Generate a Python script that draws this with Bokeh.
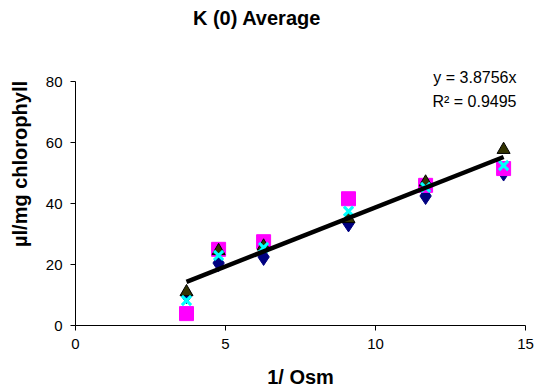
from bokeh.plotting import figure
from bokeh.models import Range1d, FixedTicker, Label
from bokeh.embed import file_html
from bokeh.resources import INLINE

# Data
x_vals = [3.7, 4.77, 6.27, 9.1, 11.67, 14.27]
s_diamond = [10.0, 20.5, 22.5, 33.5, 42.5, 50.2]
s_square = [3.9, 25.0, 27.5, 41.6, 46.0, 51.5]
s_triangle = [11.0, 24.5, 26.0, 35.0, 47.0, 57.7]
s_cross = [8.2, 23.0, 25.6, 37.5, 45.3, 52.5]
slope = 3.8756
r2 = 0.9495
trend_x = [min(x_vals), max(x_vals)]
trend_y = [slope * v for v in trend_x]
x_ticks = [0, 5, 10, 15]
y_ticks = [0, 20, 40, 60, 80]
title_text = "K (0) Average"

FONT = "Liberation Sans"

p = figure(width=535, height=391, output_backend="svg", toolbar_location=None,
           title_location=None,
           x_range=Range1d(0, 15), y_range=Range1d(0, 106),
           min_border_left=75, min_border_right=10, min_border_top=2,
           min_border_bottom=66)
p.outline_line_color = None
p.xgrid.grid_line_color = None
p.ygrid.grid_line_color = None
p.background_fill_color = "white"
p.border_fill_color = "white"

for ax in (p.xaxis[0], p.yaxis[0]):
    ax.axis_line_color = "black"
    ax.axis_line_width = 1
    ax.major_tick_line_color = "black"
    ax.major_tick_out = 5
    ax.major_tick_in = 0
    ax.minor_tick_line_color = None
    ax.major_label_text_font = FONT
    ax.major_label_text_font_size = "15px"
    ax.major_label_text_color = "black"
    ax.axis_label_text_font = FONT
    ax.axis_label_text_font_size = "20px"
    ax.axis_label_text_font_style = "bold"
    ax.axis_label_text_color = "black"

p.xaxis.ticker = FixedTicker(ticks=x_ticks)
p.yaxis.ticker = FixedTicker(ticks=y_ticks)
p.yaxis.bounds = (0, 80)
p.xaxis.axis_label = "1/ Osm"
p.yaxis.axis_label = "µl/mg chlorophyll"
p.xaxis.major_label_standoff = 8
p.yaxis.major_label_standoff = 8
p.xaxis.axis_label_standoff = 14
p.yaxis.axis_label_standoff = 12

p.scatter(x_vals, s_diamond, marker="diamond", size=17, fill_color="#000080",
          line_color="#000080")
p.scatter(x_vals, s_square, marker="square", size=14, fill_color="#FF00FF",
          line_color="#FF00FF")
p.scatter(x_vals, s_triangle, marker="triangle", size=13, fill_color="#333300",
          line_color="black", line_width=1)
p.scatter(x_vals, s_cross, marker="x", size=13, line_color="#00FFFF",
          line_width=3)

p.line(trend_x, trend_y, line_color="black", line_width=4.5)

p.add_layout(Label(x=6.05, y=101.0, text=title_text, text_align="center",
                   text_baseline="middle", text_font=FONT,
                   text_font_size="20px", text_font_style="bold",
                   text_color="black"))
p.add_layout(Label(x=14.7, y=81.4, text="y = %.4fx" % slope, text_align="right",
                   text_baseline="middle", text_font=FONT,
                   text_font_size="16px", text_color="black"))
p.add_layout(Label(x=14.7, y=73.5, text="R² = %.4f" % r2, text_align="right",
                   text_baseline="middle", text_font=FONT,
                   text_font_size="16px", text_color="black"))

open("out.html", "w").write(file_html(p, INLINE))
